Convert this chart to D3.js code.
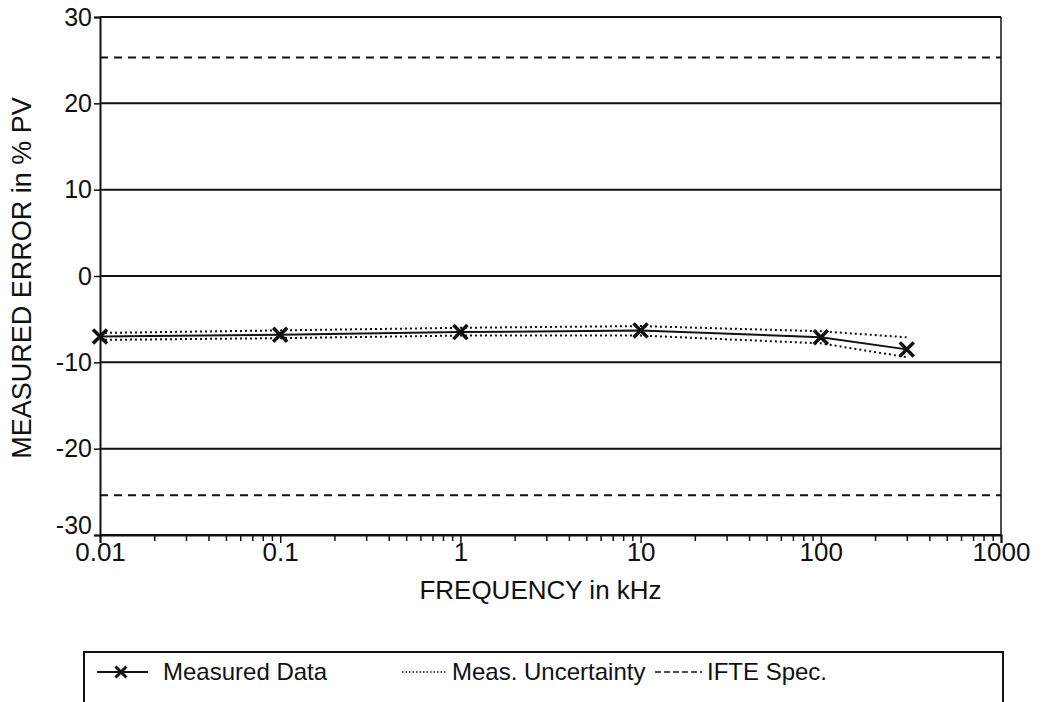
<!DOCTYPE html>
<html>
<head>
<meta charset="utf-8">
<script src="https://cdn.jsdelivr.net/npm/d3@7"></script>
<style>
  body { margin: 0; background: #fff; }
  svg text { font-family: 'Liberation Sans', Arial, sans-serif; fill: #111; }
</style>
</head>
<body>
<div id="svgDiv"></div>
<script>
var freqs = [0.01, 0.1, 1, 10, 100, 300]
var measured = [-7.0, -6.8, -6.5, -6.3, -7.1, -8.5]
var uncUpper = [-6.6, -6.3, -6.0, -5.8, -6.4, -7.1]
var uncLower = [-7.4, -7.2, -6.9, -6.9, -7.8, -9.4]
var specFreqs = [0.01, 1000]
var specUpper = [25.3, 25.3]
var specLower = [-25.4, -25.4]
var xTicks = [0.01, 0.1, 1, 10, 100, 1000]
var xTickLabels = ['0.01', '0.1', '1', '10', '100', '1000']
var yTicks = [-30, -20, -10, 0, 10, 20, 30]
var legendLabels = ['Measured Data', 'Meas. Uncertainty', 'IFTE Spec.']

var width = 1042
var height = 702
var margin = {left: 100, right: 41, top: 17, bottom: 167}
var chartWidth = width - margin.left - margin.right
var chartHeight = height - margin.top - margin.bottom
var ink = '#111'

var svg = d3.select('#svgDiv')
  .append('svg')
  .attr('width', width)
  .attr('height', height)

var chart = svg.append('g')
  .attr('transform', 'translate(' + margin.left + ',' + margin.top + ')')

var xScale = d3.scaleLog()
  .domain([0.01, 1000])
  .range([0, chartWidth])
var yScale = d3.scaleLinear()
  .domain([-30, 30])
  .range([chartHeight, 0])

// horizontal grid lines
chart.selectAll('.grid')
  .data(yTicks)
  .enter()
  .append('line')
  .attr('x1', 0)
  .attr('x2', chartWidth)
  .attr('y1', function (d) { return yScale(d) })
  .attr('y2', function (d) { return yScale(d) })
  .style('stroke', ink)
  .style('stroke-width', 2)

// right border
chart.append('line')
  .attr('x1', chartWidth).attr('x2', chartWidth)
  .attr('y1', 0).attr('y2', chartHeight)
  .style('stroke', ink)
  .style('stroke-width', 1.5)

// minor ticks: 2..9 in each decade
var minorTicks = []
xTicks.slice(0, -1).forEach(function (t) {
  for (var k = 2; k < 10; k++) minorTicks.push(t * k)
})

var xAxis = d3.axisBottom(xScale)
  .tickValues(xTicks)
  .tickFormat(function (d, i) { return xTickLabels[i] })
  .tickSize(8)
  .tickPadding(2)
var xMinor = d3.axisBottom(xScale)
  .tickValues(minorTicks)
  .tickFormat('')
  .tickSize(6)
var yAxis = d3.axisLeft(yScale)
  .tickValues(yTicks)
  .tickFormat(function (d) { return String(d) }) // plain hyphen, not unicode minus
  .tickSize(6)
  .tickPadding(2)

var xg = chart.append('g')
  .attr('transform', 'translate(0,' + chartHeight + ')')
  .call(xAxis)
chart.append('g')
  .attr('transform', 'translate(0,' + chartHeight + ')')
  .call(xMinor)
  .select('.domain').remove()
var yg = chart.append('g').call(yAxis)

xg.selectAll('text').style('font-size', '26px').attr('dy', '0.62em')
yg.selectAll('text').style('font-size', '25px')
yg.selectAll('.tick').filter(function (d) { return d === -30 }).select('text').attr('dy', '-0.05em')
svg.selectAll('.domain').style('stroke', ink).style('stroke-width', 2)
svg.selectAll('.tick line').style('stroke', ink).style('stroke-width', 1.5)

// axis titles
svg.append('text')
  .attr('x', margin.left + chartWidth / 2 - 10)
  .attr('y', 599)
  .attr('text-anchor', 'middle')
  .style('font-size', '26px')
  .text('FREQUENCY in kHz')
svg.append('text')
  .attr('transform', 'translate(31,278) rotate(-90)')
  .attr('text-anchor', 'middle')
  .style('font-size', '27px')
  .text('MEASURED ERROR in % PV')

var line = d3.line()
  .x(function (d) { return xScale(d[0]) })
  .y(function (d) { return yScale(d[1]) })

function pairs (xs, ys) {
  return xs.map(function (x, i) { return [x, ys[i]] })
}

// IFTE spec limits
;[specUpper, specLower].forEach(function (s) {
  chart.append('path')
    .datum(pairs(specFreqs, s))
    .attr('d', line)
    .style('fill', 'none')
    .style('stroke', ink)
    .style('stroke-width', 2)
    .style('stroke-dasharray', '8,6')
})

// uncertainty band edges
;[uncUpper, uncLower].forEach(function (s) {
  chart.append('path')
    .datum(pairs(freqs, s))
    .attr('d', line)
    .style('fill', 'none')
    .style('stroke', ink)
    .style('stroke-width', 2)
    .style('stroke-dasharray', '2,3')
})

// measured data
var measuredPts = pairs(freqs, measured)
chart.append('path')
  .datum(measuredPts)
  .attr('d', line)
  .style('fill', 'none')
  .style('stroke', ink)
  .style('stroke-width', 2)

var cross = d3.symbol().type(d3.symbolX).size(130)
chart.selectAll('.mark')
  .data(measuredPts)
  .enter()
  .append('path')
  .attr('d', cross)
  .attr('transform', function (d) { return 'translate(' + xScale(d[0]) + ',' + yScale(d[1]) + ')' })
  .style('fill', 'none')
  .style('stroke', ink)
  .style('stroke-width', 3.5)

// legend
var legend = svg.append('g')
legend.append('rect')
  .attr('x', 84)
  .attr('y', 652)
  .attr('width', 919)
  .attr('height', 60)
  .style('fill', 'none')
  .style('stroke', ink)
  .style('stroke-width', 2)

var legendY = 672
legend.append('line')
  .attr('x1', 97).attr('x2', 148)
  .attr('y1', legendY).attr('y2', legendY)
  .style('stroke', ink).style('stroke-width', 2)
legend.append('path')
  .attr('d', d3.symbol().type(d3.symbolX).size(80))
  .attr('transform', 'translate(121,' + legendY + ')')
  .style('fill', 'none').style('stroke', ink).style('stroke-width', 3)
legend.append('line')
  .attr('x1', 402).attr('x2', 446)
  .attr('y1', legendY).attr('y2', legendY)
  .style('stroke', ink).style('stroke-width', 1.5)
  .style('stroke-dasharray', '1.5,2')
legend.append('line')
  .attr('x1', 655).attr('x2', 702)
  .attr('y1', legendY).attr('y2', legendY)
  .style('stroke', ink).style('stroke-width', 1.5)
  .style('stroke-dasharray', '6,3')

var legendX = [163, 452, 707]
legend.selectAll('.legendText')
  .data(legendLabels)
  .enter()
  .append('text')
  .attr('x', function (d, i) { return legendX[i] })
  .attr('y', legendY)
  .attr('dy', '0.35em')
  .style('font-size', '24px')
  .text(function (d) { return d })
</script>
</body>
</html>
